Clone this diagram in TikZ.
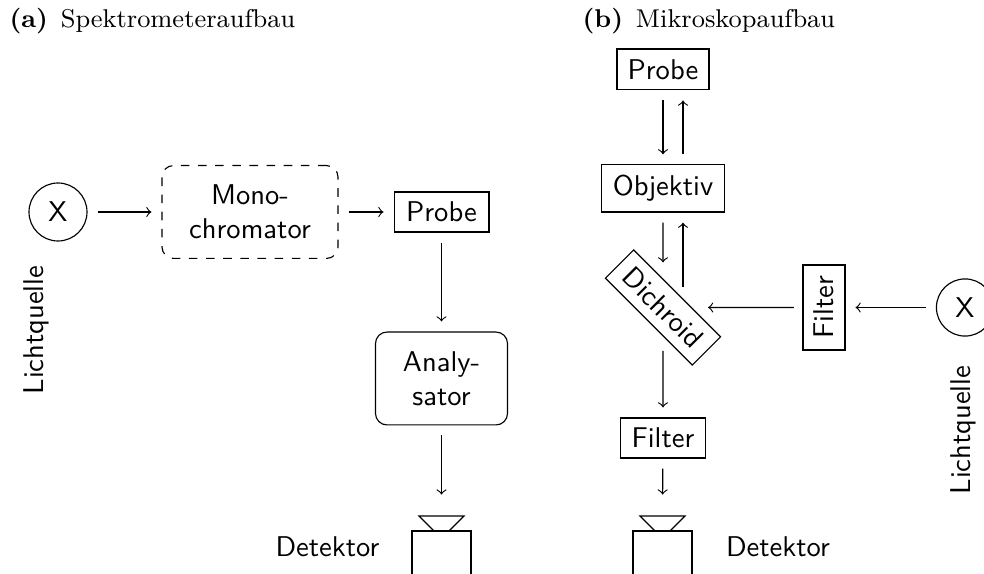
\documentclass[tikz,border=0pt]{standalone}
\usetikzlibrary{calc}
\begin{document}
\begin{tikzpicture}[x=0.35pt,y=-0.35pt,
  box/.style={draw, font=\sffamily, inner sep=0pt, align=center},
  conn/.style={->, shorten >=3.5pt, shorten <=3.5pt},
  lbl/.style={font=\sffamily, inner sep=0pt},
  captxt/.style={font=\small, anchor=base west, inner sep=0pt}]
\useasboundingbox (0,0) rectangle (984,574);

% ---------- (a) ----------
\node[captxt] (capA) at (9,28) {\textbf{(a)}\hspace{4.5pt}Spektrometeraufbau};
\node[box, circle, minimum size=20.3pt] (srcA) at (58,212) {X};
\node[lbl, rotate=90] (lqA) at (36,330) {Lichtquelle};
\node[box, dashed, rounded corners=4pt, minimum width=61.6pt, minimum height=32.5pt] (mono) at (250,212) {Mono-\\chromator};
\node[box, minimum width=33.2pt, minimum height=14pt] (probeA) at (441.5,212) {Probe};
\node[box, rounded corners=4pt, minimum width=46.2pt, minimum height=32.5pt] (ana) at (441.5,378.5) {Analy-\\sator};
\coordinate (detA) at (441.5,516);
\node[lbl] (detAtext) at (327.5,547) {Detektor};
\draw (detA) ++(-22.5,0) -- ++(45,0) -- ++(-15,15) -- ++(-15,0) -- cycle;
\draw (detA) ++(-29.5,60) -- ++(0,-45) -- ++(59,0) -- ++(0,45);

\draw[conn] (srcA) -- (mono);
\draw[conn] (mono) -- (probeA);
\draw[conn] (probeA) -- (ana);
\draw[conn, shorten >=7.5pt] (ana) -- (detA);

% ---------- (b) ----------
\node[captxt] (capB) at (582,28) {\textbf{(b)}\hspace{4.5pt}Mikroskopaufbau};
\node[box, minimum width=32.2pt, minimum height=14.3pt] (probeB) at (663,69.5) {Probe};
\node[box, minimum width=43pt, minimum height=16.5pt] (obj) at (663,188.5) {Objektiv};
\node[box, rotate=-45, minimum width=43pt, minimum height=14pt] (dich) at (663,307.5) {Dichroid};
\node[box, rotate=90, minimum width=29.75pt, minimum height=14.7pt] (filtR) at (824,307.5) {Filter};
\node[box, circle, minimum size=20pt] (srcB) at (965,307.5) {X};
\node[lbl, rotate=90] (lqB) at (963,430) {Lichtquelle};
\node[box, minimum width=29.75pt, minimum height=14pt] (filtB) at (663,438) {Filter};
\coordinate (detB) at (662.5,516);
\node[lbl] (detBtext) at (778,547) {Detektor};
\draw (detB) ++(-22.5,0) -- ++(45,0) -- ++(-15,15) -- ++(-15,0) -- cycle;
\draw (detB) ++(-29.5,60) -- ++(0,-45) -- ++(59,0) -- ++(0,45);

\draw[conn] (probeB) -- (obj);
\draw[conn] ([xshift=7pt]obj.north) -- ([xshift=7pt]probeB.south);
\draw[->, shorten <=3.5pt, shorten >=5.6pt] (obj) -- (dich);
\draw[->, shorten <=2pt, shorten >=3.5pt] ([xshift=7pt]obj.south |- dich.north) -- ([xshift=7pt]obj.south);
\draw[->, shorten <=5pt, shorten >=3.5pt] (dich) -- (filtB);
\draw[conn, shorten >=7.5pt] (filtB) -- (detB);
\draw[->, shorten <=3pt, shorten >=5.6pt] (filtR) -- (dich);
\draw[conn] (srcB) -- (filtR);
\end{tikzpicture}
\end{document}
